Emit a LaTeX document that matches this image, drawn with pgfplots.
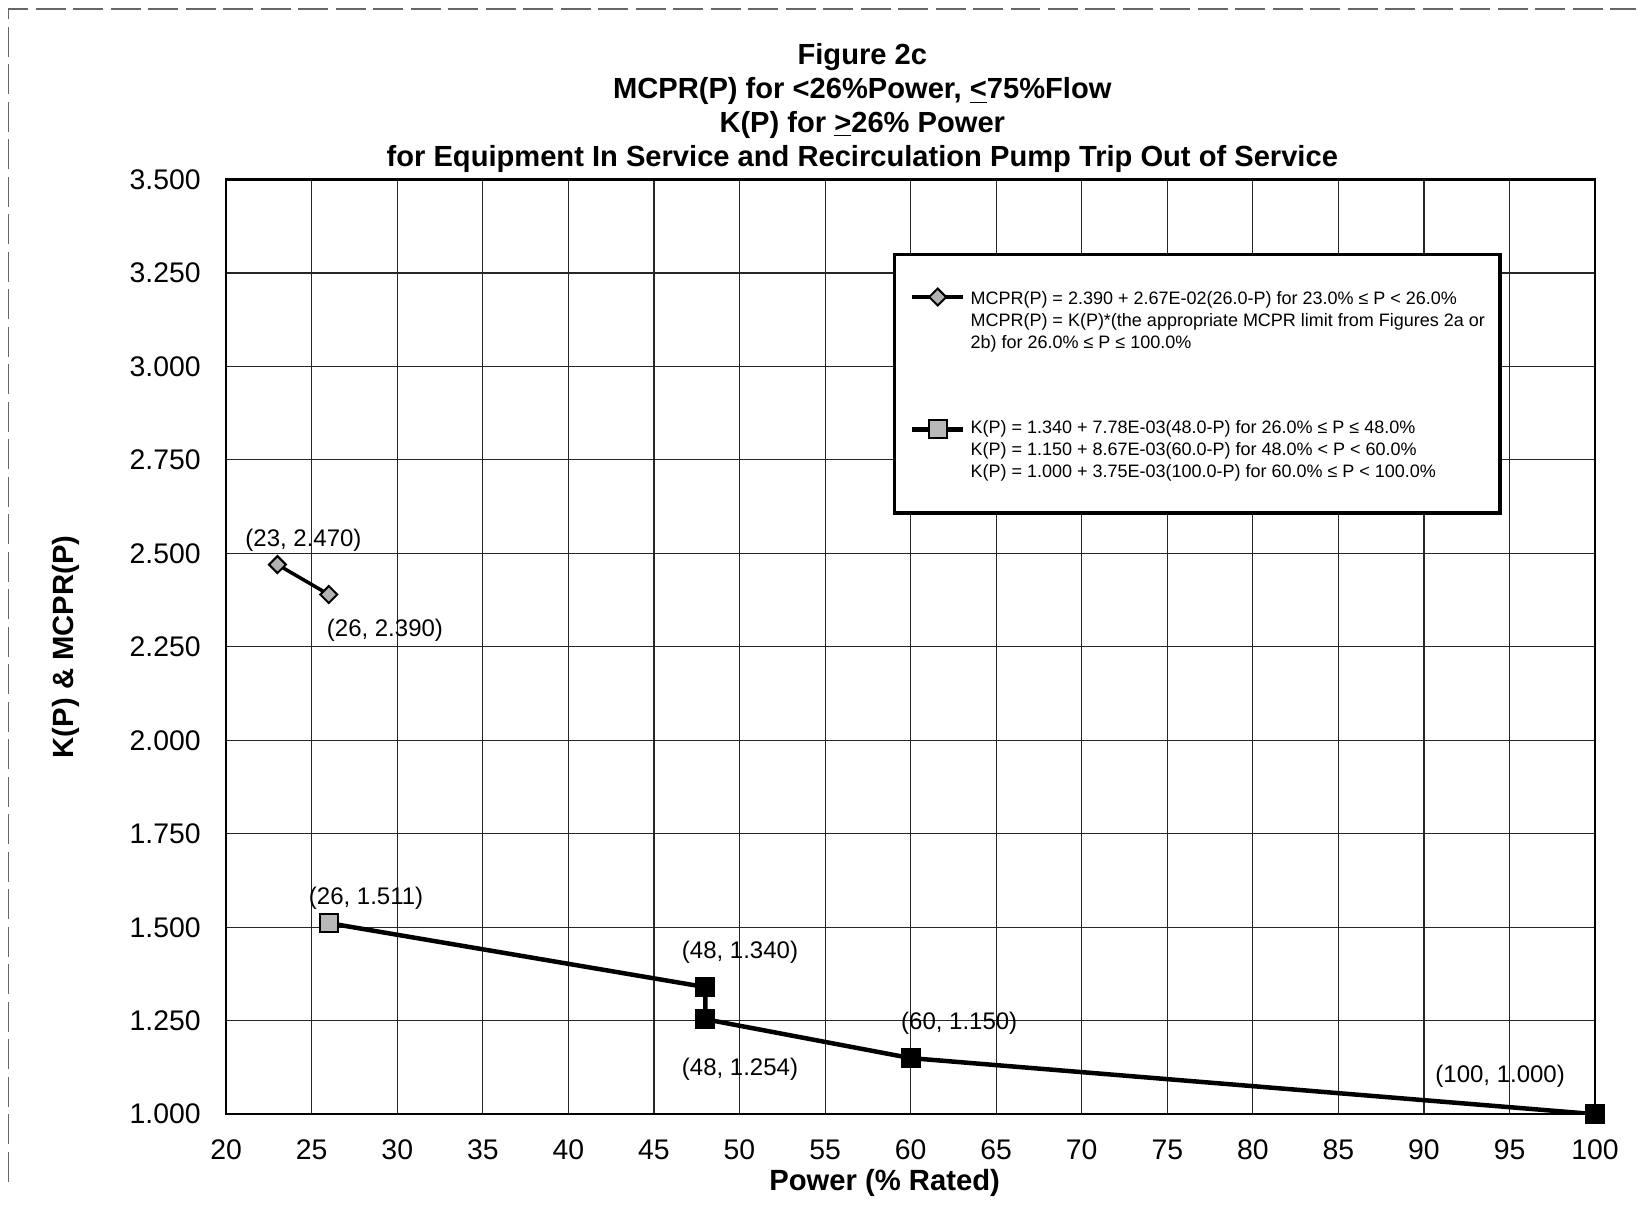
\documentclass[border=0pt]{standalone}
\usepackage{pgfplots}
\usepackage{pgfplotstable}
\pgfplotsset{compat=1.18}
\usepackage{fontspec}
\setmainfont{Liberation Sans}

\pgfplotstableread{
x y
23 2.470
26 2.390
}\mcpr
\pgfplotstableread{
x y
26 1.511
48 1.340
48 1.254
60 1.150
100 1.000
}\kp

\begin{document}
\begin{tikzpicture}
\begin{axis}[
  width=547.8pt, height=374pt, scale only axis,
  xmin=20, xmax=100, ymin=1, ymax=3.5,
  xtick={20,25,30,35,40,45,50,55,60,65,70,75,80,85,90,95,100},
  ytick={1,1.25,1.5,1.75,2,2.25,2.5,2.75,3,3.25,3.5},
  grid=major, major grid style={black!85, line width=0.45pt},
  major tick length=0pt,
  axis line style={black, line width=0.9pt},
  tick label style={font=\fontsize{11.35}{13}\selectfont},
  /pgf/number format/assume math mode=true,
  yticklabel style={/pgf/number format/fixed, /pgf/number format/fixed zerofill, /pgf/number format/precision=3, inner sep=0pt, xshift=-10pt},
  xticklabel style={inner sep=0pt, yshift=-10pt},
  xlabel={Power (\% Rated)},
  ylabel={K(P) \& MCPR(P)},
  label style={font=\bfseries\fontsize{11.7}{13.6}\selectfont},
  xlabel style={at={(axis description cs:0.481,-0.074)}, anchor=center},
  ylabel style={at={(axis description cs:-0.1168,0.5)}, anchor=center},
  title={Figure 2c\\MCPR(P) for <26\%Power, \underline{<}75\%Flow\\K(P) for \underline{>}26\% Power\\for Equipment In Service and Recirculation Pump Trip Out of Service},
  title style={font=\bfseries\fontsize{11.65}{13.5}\selectfont, align=center, at={(axis description cs:0.4647,1)}, anchor=south, inner sep=0pt, yshift=-3.2pt},
  legend style={at={(axis description cs:0.4873,0.9216)}, anchor=north west, draw=black, line width=1.3pt, fill=white, inner xsep=6pt, inner ysep=11.5pt, font=\fontsize{7.2}{8.8}\selectfont, cells={anchor=west}, row sep=0pt, column sep=2pt, nodes={inner sep=0pt, text height=6.2pt, text depth=2.6pt}},
  legend cell align=left,
  legend image code/.code={\draw[mark repeat=2,mark phase=2] plot coordinates {(0cm,0cm)(0.36cm,0cm)(0.72cm,0cm)};},
]
\addplot[black, line width=1.4pt, mark=square*, mark size=2.4pt, mark options={rotate=45, fill=gray!60, draw=black, line width=0.8pt}] table {\mcpr};
\addlegendentry[text height=8.5pt]{MCPR(P) = 2.390 + 2.67E-02(26.0-P) for 23.0\% ≤ P < 26.0\%}
\addlegendimage{empty legend}
\addlegendentry{MCPR(P) = K(P)*(the appropriate MCPR limit from Figures 2a or}
\addlegendimage{empty legend}
\addlegendentry{2b) for 26.0\% ≤ P ≤ 100.0\%}
\addlegendimage{empty legend}
\addlegendentry{}
\addlegendimage{empty legend}
\addlegendentry{}
\addlegendimage{empty legend}
\addlegendentry[text height=5.2pt]{}
\addplot[black, line width=1.8pt, mark=square*, mark size=3.6pt, mark options={fill=gray!55, draw=black, line width=0.8pt}] table {\kp};
\addlegendentry{K(P) = 1.340 + 7.78E-03(48.0-P) for 26.0\% ≤ P ≤ 48.0\%}
\addlegendimage{empty legend}
\addlegendentry{K(P) = 1.150 + 8.67E-03(60.0-P) for 48.0\% < P < 60.0\%}
\addlegendimage{empty legend}
\addlegendentry{K(P) = 1.000 + 3.75E-03(100.0-P) for 60.0\% ≤ P < 100.0\%}
\addplot[forget plot, only marks, mark=square*, mark size=3.6pt, mark indices={2,3,4,5}, mark options={fill=black, draw=black, line width=0.8pt}] table {\kp};

\begin{scope}[font=\fontsize{9.6}{11}\selectfont]
\node at (axis cs:24.52,2.535) {(23, 2.470)};
\node at (axis cs:29.28,2.2945) {(26, 2.390)};
\node at (axis cs:28.18,1.577) {(26, 1.511)};
\node at (axis cs:50.03,1.434) {(48, 1.340)};
\node at (axis cs:50.03,1.119) {(48, 1.254)};
\node at (axis cs:62.84,1.244) {(60, 1.150)};
\node at (axis cs:94.45,1.102) {(100, 1.000)};
\end{scope}
\end{axis}
\pgfresetboundingbox
\path (current axis.south west) ++(-90.24pt,-36.96pt) coordinate (BL) rectangle ++(655.2pt,482.8pt);
\draw[black!60, line width=0.5pt, dash pattern=on 12pt off 3pt] (BL) ++(3.3pt,10pt) -- ++(0,469.2pt) -- ++(651pt,0);
\end{tikzpicture}
\end{document}
